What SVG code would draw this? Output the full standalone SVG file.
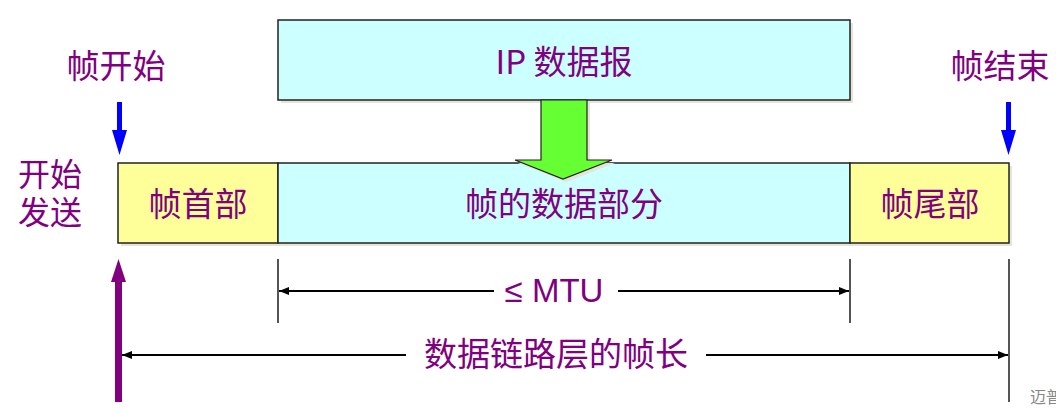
<svg xmlns="http://www.w3.org/2000/svg" width="1056" height="413" viewBox="0 0 1056 413">
<style>
.t{font-family:"Noto Sans CJK SC","Liberation Sans",sans-serif;fill:#800080;font-size:33px;text-anchor:middle}
.l{font-family:"Liberation Sans","Noto Sans CJK SC",sans-serif}
.box{stroke:#222;stroke-width:1.5}
.sh{fill:#e6e3d8}
.dim{stroke:#000;stroke-width:2;fill:none}
.tick{stroke:#555;stroke-width:2}
</style>
<defs>
<marker id="ah" viewBox="0 0 10 8" refX="10" refY="4" markerWidth="10" markerHeight="8" markerUnits="userSpaceOnUse" orient="auto-start-reverse">
<path d="M0,0 L10,4 L0,8 Z" fill="#000"/>
</marker>
</defs>
<rect width="1056" height="413" fill="#fff"/>
<g id="ip">
<rect class="sh" x="281" y="23" width="572" height="80"/>
<rect class="box" x="278" y="20" width="572" height="80" fill="#ccffff"/>
<text class="t" x="564" y="74">IP 数据报</text>
</g>
<g id="frame">
<rect class="sh" x="121" y="166" width="891" height="80"/>
<rect class="box" x="118" y="163" width="160" height="80" fill="#ffff99"/>
<rect class="box" x="278" y="163" width="572" height="80" fill="#ccffff"/>
<rect class="box" x="850" y="163" width="159" height="80" fill="#ffff99"/>
<text class="t" x="198" y="216">帧首部</text>
<text class="t" x="564" y="216">帧的数据部分</text>
<text class="t" x="930" y="216">帧尾部</text>
</g>
<g id="green-arrow">
<path d="M544,103 L590,103 L590,163 L615,163 L566,182 L518,163 L544,163 Z" fill="#e6e3d8"/>
<path d="M541,100 L587,100 L587,160 L612,160 L563,179 L515,160 L541,160 Z" fill="#66ff33" stroke="#222" stroke-width="1.2"/>
</g>
<g id="labels">
<text class="t" x="116" y="78">帧开始</text>
<text class="t" x="1000" y="78">帧结束</text>
<text class="t" x="50" y="186" font-size="32" style="font-size:32px">开始</text>
<text class="t" x="50" y="224" style="font-size:32px">发送</text>
<text x="1030" y="403" font-family="Noto Sans CJK SC,sans-serif" font-size="16" fill="#888">迈普</text>
</g>
<g id="connectors">
<path d="M117,102 L122,102 L122,130 L127,130 L119.5,155 L112,130 L117,130 Z" fill="#0000ff"/>
<path d="M1006,102 L1011,102 L1011,130 L1016,130 L1008.5,155 L1001,130 L1006,130 Z" fill="#0000ff"/>
<path d="M115,402 L122,402 L122,282 L126,282 L118.5,259 L111,282 L115,282 Z" fill="#800080"/>
<line class="tick" x1="278" y1="259" x2="278" y2="323"/>
<line class="tick" x1="850" y1="259" x2="850" y2="323"/>
<line class="tick" x1="1009" y1="259" x2="1009" y2="402"/>
<line class="dim" x1="279" y1="291" x2="494" y2="291" marker-start="url(#ah)"/>
<line class="dim" x1="618" y1="291" x2="849" y2="291" marker-end="url(#ah)"/>
<text class="t l" x="554" y="302">≤ MTU</text>
<line class="dim" x1="122" y1="355" x2="406" y2="355" marker-start="url(#ah)"/>
<line class="dim" x1="706" y1="355" x2="1008" y2="355" marker-end="url(#ah)"/>
<text class="t" x="556" y="366">数据链路层的帧长</text>
</g>
</svg>
